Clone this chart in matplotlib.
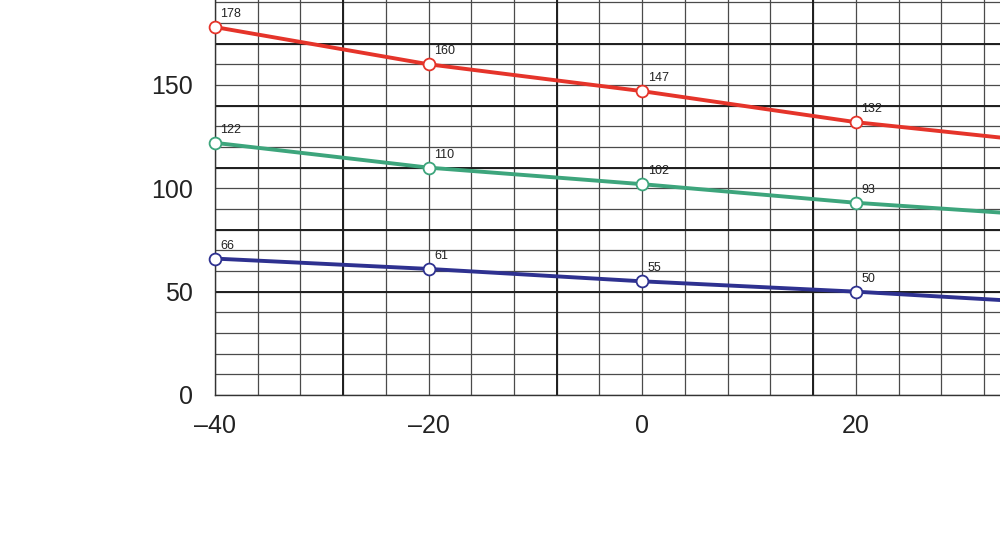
import matplotlib
matplotlib.use("Agg")
import matplotlib.pyplot as plt
import numpy as np

# Data
x_vals = [-40, -20, 0, 20, 40]
red_vals = [178, 160, 147, 132, 121]
green_vals = [122, 110, 102, 93, 86]
blue_vals = [66, 61, 55, 50, 44]
x_ticks = [-40, -20, 0, 20]
x_tick_labels = ["\u201340", "\u201320", "0", "20"]
y_ticks = [0, 50, 100, 150]
y_tick_labels = ["0", "50", "100", "150"]

plt.rcParams['font.family'] = ['Liberation Sans', 'DejaVu Sans']

W, H = 1000, 553
px_x = 10.68   # pixels per x unit
px_y = 2.067   # pixels per y unit
left_px, bottom_px = 215, 395
right_px, top_px = 1110, -50

fig = plt.figure(figsize=(10, 5.53), dpi=100)
ax = fig.add_axes([left_px / W, 1 - bottom_px / H, (right_px - left_px) / W,
                   (bottom_px - top_px) / H])

ax.set_xticks(x_ticks)
ax.set_xticklabels(x_tick_labels, fontsize=18)
ax.set_xticks(np.arange(-40, 45, 4), minor=True)
ax.set_yticks(y_ticks)
ax.set_yticklabels(y_tick_labels, fontsize=18)
ax.set_yticks(np.arange(0, 221, 10), minor=True)
ax.set_xlim(-40, -40 + (right_px - left_px) / px_x)
ax.set_ylim(0, (bottom_px - top_px) / px_y)
x_visible = -40 + (W - left_px) / px_x

ax.tick_params(which='both', length=0)
ax.tick_params(axis='x', pad=14, colors='#222222')
ax.tick_params(axis='y', pad=16, colors='#222222')
ax.grid(which='both', color='#4a4a4a', linewidth=0.9)
for xv in [-28, -8, 16]:
    ax.axvline(xv, color='#1e1e1e', linewidth=1.4, zorder=1)
for yv in [50, 80, 110, 140, 170]:
    ax.axhline(yv, color='#1e1e1e', linewidth=1.4, zorder=1)
ax.set_axisbelow(True)
for s in ['top', 'right']:
    ax.spines[s].set_visible(False)
for s in ['left', 'bottom']:
    ax.spines[s].set_color('#333333')
    ax.spines[s].set_linewidth(1.0)

series = [(red_vals, '#e5342a'), (green_vals, '#3da57c'), (blue_vals, '#2e3190')]
for vals, col in series:
    ax.plot(x_vals, vals, color=col, linewidth=2.8, marker='o', markersize=8.5,
            markerfacecolor='white', markeredgecolor=col, markeredgewidth=1.3,
            zorder=3, clip_on=False)
    for xv, yv in zip(x_vals, vals):
        if xv < x_visible:
            ax.annotate(str(yv), (xv, yv), xytext=(4, 5), textcoords='offset points',
                        fontsize=9, color='#222222', ha='left', va='bottom', zorder=4)

fig.savefig("out.png", dpi=100, facecolor='white')
